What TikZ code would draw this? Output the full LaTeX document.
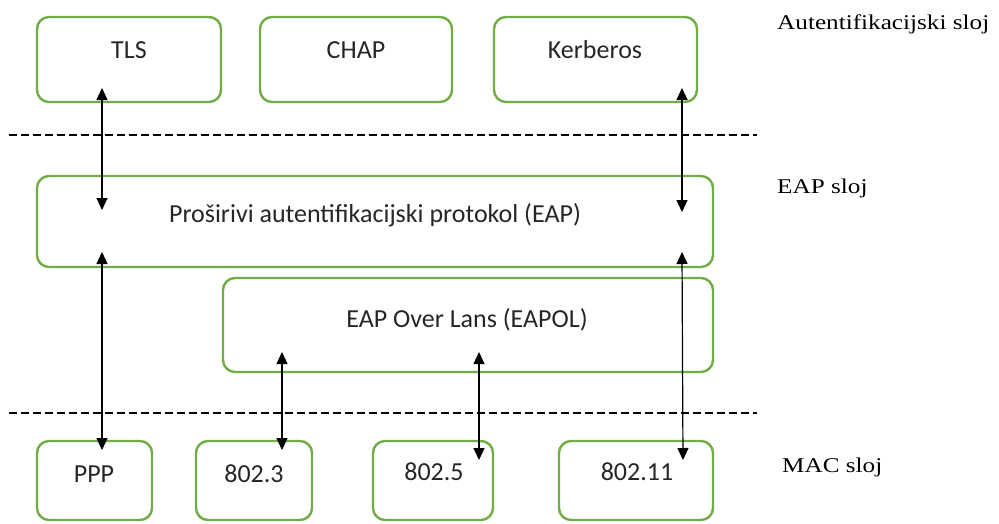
\documentclass[tikz,border=0pt]{standalone}
\usepackage{fontspec}
\usetikzlibrary{arrows.meta}
\setmainfont{Carlito}
\newfontfamily\labfont[FakeStretch=1.2]{Liberation Serif}
\definecolor{boxgreen}{HTML}{70AD47}
\begin{document}
\begin{tikzpicture}[x=1pt,y=-1pt,
  gbox/.style={draw=boxgreen, line width=2.4pt, rounded corners=12pt, inner sep=0pt},
  btext/.style={anchor=base, inner sep=0pt, font=\fontsize{26}{30}\selectfont, text=black!85},
  layer/.style={anchor=base west, inner sep=0pt, font=\labfont\fontsize{21}{25}\selectfont, text=black},
  arr/.style={{Triangle[width=11pt,length=12pt]}-{Triangle[width=11pt,length=12pt]}, line width=1.2pt},
  sep/.style={dashed, dash pattern=on 8pt off 4pt, line width=1.6pt}]
\useasboundingbox (0,0) rectangle (999,523);
% boxes
\node[gbox, minimum width=184pt, minimum height=85pt] (tls) at (129,59.5) {};
\node[gbox, minimum width=192pt, minimum height=85pt] (chap) at (356,59.5) {};
\node[gbox, minimum width=203pt, minimum height=85pt] (kerb) at (595.5,59.5) {};
\node[gbox, minimum width=676pt, minimum height=91pt] (eap) at (375,221.5) {};
\node[gbox, minimum width=490pt, minimum height=94pt] (eapol) at (468,325) {};
\node[gbox, minimum width=115pt, minimum height=79pt] (ppp) at (94.5,480.5) {};
\node[gbox, minimum width=116pt, minimum height=79pt] (e3) at (254,480.5) {};
\node[gbox, minimum width=120pt, minimum height=79pt] (e5) at (433,480.5) {};
\node[gbox, minimum width=154pt, minimum height=79pt] (e11) at (636,480.5) {};
% texts
\node[btext] (tlsT) at (129,58) {TLS};
\node[btext] (chapT) at (356,58) {CHAP};
\node[btext] (kerbT) at (595,58) {Kerberos};
\node[btext] (eapT) at (375,222) {Proširivi autentifikacijski protokol (EAP)};
\node[btext] (eapolT) at (467,327) {EAP Over Lans (EAPOL)};
\node[btext] (pppT) at (94,482) {PPP};
\node[btext] (e3T) at (254,482) {802.3};
\node[btext] (e5T) at (434,480) {802.5};
\node[btext] (e11T) at (637,480) {802.11};
% layer labels
\node[layer] (l1) at (777,29) {Autentifikacijski sloj};
\node[layer] (l2) at (777,193) {EAP sloj};
\node[layer] (l3) at (782,472) {MAC sloj};
% separators
\coordinate (s1a) at (9,135); \coordinate (s1b) at (757,135);
\coordinate (s2a) at (9,413); \coordinate (s2b) at (757,413);
\draw[sep] (s1a) -- (s1b);
\draw[sep] (s2a) -- (s2b);
% arrow end points
\coordinate (a1t) at (102,88);  \coordinate (a1b) at (102,210);
\coordinate (a2t) at (682,88);  \coordinate (a2b) at (682,212);
\coordinate (a3t) at (102,252); \coordinate (a3b) at (102,450);
\coordinate (a4t) at (682,252); \coordinate (a4b) at (683,460);
\coordinate (a5t) at (282,352); \coordinate (a5b) at (282,450);
\coordinate (a6t) at (479,352); \coordinate (a6b) at (479,460);
\draw[arr] (a1t) -- (a1b);
\draw[arr] (a2t) -- (a2b);
\draw[arr] (a3t) -- (a3b);
\draw[arr] (a4t) -- (a4b);
\draw[arr] (a5t) -- (a5b);
\draw[arr] (a6t) -- (a6b);
\end{tikzpicture}
\end{document}
